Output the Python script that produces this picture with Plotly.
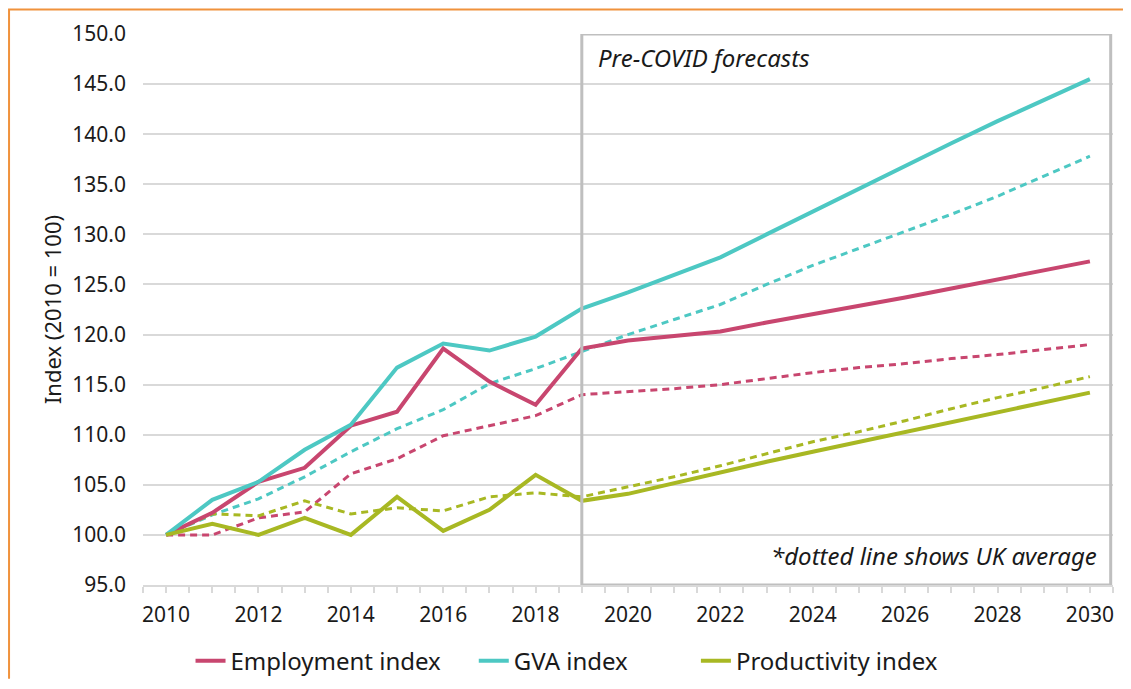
import plotly.graph_objects as go

years = list(range(2010, 2031))

employment = [100.0, 102.2, 105.3, 106.7, 110.9, 112.3, 118.6, 115.3, 113.0, 118.6,
              119.4, 119.8, 120.3, 121.2, 122.0, 122.8, 123.7, 124.6, 125.5, 126.4, 127.3]
gva = [100.0, 103.5, 105.3, 108.5, 111.0, 116.7, 119.1, 118.4, 119.8, 122.6,
       124.2, 126.0, 127.7, 130.0, 132.3, 134.6, 136.9, 139.1, 141.3, 143.4, 145.5]
productivity = [100.0, 101.1, 100.0, 101.7, 100.0, 103.8, 100.4, 102.5, 106.0, 103.4,
                104.1, 105.2, 106.2, 107.3, 108.3, 109.3, 110.3, 111.3, 112.3, 113.2, 114.2]

# UK averages (dotted lines)
employment_uk = [100.0, 100.0, 101.7, 102.3, 106.1, 107.6, 109.9, 110.9, 111.9, 114.0,
                 114.3, 114.6, 115.0, 115.6, 116.2, 116.7, 117.1, 117.6, 118.0, 118.5, 119.0]
gva_uk = [100.0, 102.0, 103.6, 105.8, 108.3, 110.6, 112.5, 115.1, 116.6, 118.3,
          120.0, 121.5, 123.0, 125.0, 126.9, 128.6, 130.3, 132.0, 133.8, 135.8, 137.8]
productivity_uk = [100.0, 102.1, 101.9, 103.4, 102.1, 102.7, 102.4, 103.8, 104.2, 103.8,
                   104.8, 105.8, 106.9, 108.1, 109.3, 110.3, 111.4, 112.6, 113.7, 114.7, 115.8]

PINK = "#C8466F"
TEAL = "#4DC8C3"
OLIVE = "#A8B823"
GRID = "#D9D9D9"
FONT = "Noto Sans"

fig = go.Figure()

for vals, col in [(employment_uk, PINK), (gva_uk, TEAL), (productivity_uk, OLIVE)]:
    fig.add_trace(go.Scatter(x=years, y=vals, mode="lines", showlegend=False,
                             line=dict(color=col, width=3, dash="7px,5px")))

# one legend per series so the entries can be spaced like the original
series = [(employment, PINK, "Employment index", "legend", 0.049),
          (gva, TEAL, "GVA index", "legend2", 0.341),
          (productivity, OLIVE, "Productivity index", "legend3", 0.570)]
legend_cfg = {}
for vals, col, name, lg, lx in series:
    fig.add_trace(go.Scatter(x=years, y=vals, mode="lines", name=name, legend=lg,
                             line=dict(color=col, width=4)))
    legend_cfg[lg] = dict(orientation="h", x=lx, xanchor="left", y=-0.138, yanchor="middle",
                          font=dict(size=24), bgcolor="rgba(0,0,0,0)")

shapes = [
    # forecast box
    dict(type="rect", xref="x", yref="y", x0=2019, x1=2030.45, y0=95, y1=150,
         line=dict(color="#BFBFBF", width=3), fillcolor="rgba(0,0,0,0)", layer="above"),
    # orange frame: left and top edges
    dict(type="path", xref="paper", yref="paper",
         path="M -0.1381,-0.17 L -0.1381,1.0445 L 1.0103,1.0445",
         line=dict(color="#F0923C", width=2)),
]

fig.update_layout(
    width=1115, height=673,
    paper_bgcolor="white", plot_bgcolor="white",
    margin=dict(l=135, r=10, t=26, b=96, autoexpand=False),
    font=dict(family=FONT, size=21, color="#1a1a1a"),
    shapes=shapes,
    xaxis=dict(
        range=[2009.5, 2030.5],
        tickvals=years[::2],
        ticks="outside", ticklen=6, tickcolor=GRID, tickwidth=1.5,
        minor=dict(ticks="outside", dtick=0.5, tick0=2009.5, ticklen=6,
                   tickcolor=GRID, tickwidth=1.5, showgrid=False),
        showgrid=False, zeroline=False,
        showline=True, linecolor=GRID, linewidth=1.5,
        ticklabelstandoff=4,
    ),
    yaxis=dict(
        range=[95, 150], dtick=5, tickformat=".1f",
        showgrid=True, gridcolor=GRID, gridwidth=1.5,
        zeroline=False, showline=False,
        ticklabelstandoff=16,
        title=dict(text="Index (2010 = 100)", font=dict(size=22), standoff=4),
    ),
    annotations=[
        dict(text="<i>Pre-COVID forecasts</i>", xref="x", yref="y", x=2019.3, y=147.7,
             xanchor="left", yanchor="middle", showarrow=False, font=dict(size=24)),
        dict(text="<i>*dotted line shows UK average</i>", xref="x", yref="y", x=2030.2, y=97.9,
             xanchor="right", yanchor="middle", showarrow=False, font=dict(size=24)),
    ],
    **legend_cfg,
)

fig.write_html("out.html")
